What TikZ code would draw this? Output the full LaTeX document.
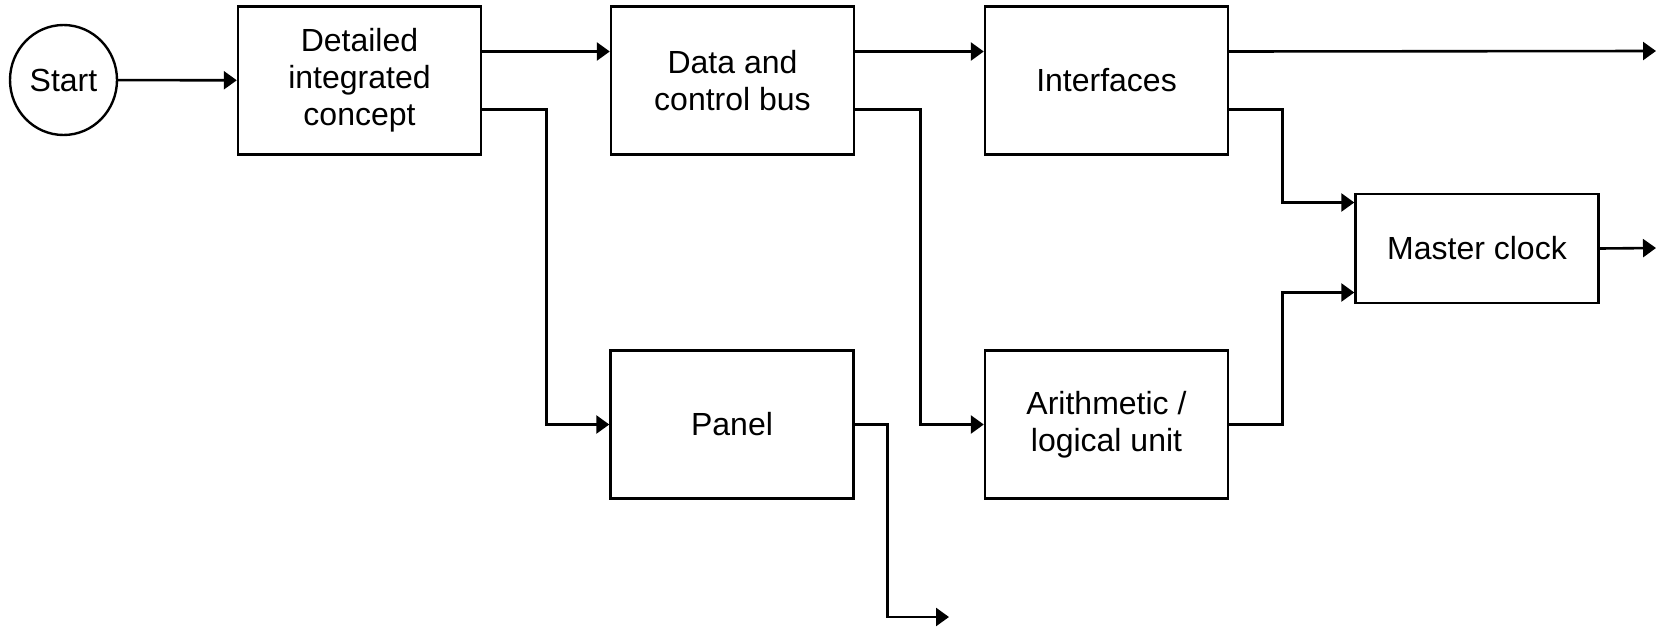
\documentclass[tikz,border=0pt]{standalone}
\usepackage{fontspec}
\setmainfont{Liberation Sans}
\usetikzlibrary{arrows.meta, shapes.geometric}

\tikzset{
    block/.style={draw, line width=1.2pt, minimum width=121.5pt, minimum height=74pt,
        align=center, font=\fontsize{16}{18.5}\selectfont},
    link/.style={line width=1.3pt, -{Triangle[length=6.5pt,width=9pt]}}
}

\begin{document}
\begin{tikzpicture}[x=0.5pt, y=-0.5pt]
    \useasboundingbox (0,0) rectangle (1656,627);

    \node[draw, line width=1.2pt, ellipse, minimum width=53.5pt, minimum height=55pt,
        inner sep=0pt, font=\fontsize{16}{18.5}\selectfont] (start) at (63.5,80) {Start};
    \node[block] (concept) at (359.5,80.5) {Detailed\\integrated\\concept};
    \node[block] (bus) at (732.5,80.5) {Data and\\control bus};
    \node[block] (iface) at (1106.5,80.5) {Interfaces};
    \node[block] (panel) at (732,424.5) {Panel};
    \node[block] (alu) at (1106.5,424.5) {Arithmetic /\\logical unit};
    \node[block, minimum height=54.5pt] (clock) at (1477,248.5) {Master clock};

    \coordinate (outa) at (1656,51);
    \coordinate (outb) at (1656,248);
    \coordinate (outc) at (949,617);

    \draw[link] (start) -- (concept);
    \draw[link] ([yshift=14.5pt]concept.east) -- ([yshift=14.5pt]bus.west);
    \draw[link] ([yshift=-14.5pt]concept.east) -- ++(32pt,0) |- (panel.west);
    \draw[link] ([yshift=14.5pt]bus.east) -- ([yshift=14.5pt]iface.west);
    \draw[link] ([yshift=-14.5pt]bus.east) -- ++(32.5pt,0) |- (alu.west);
    \draw[link] ([yshift=14.5pt]iface.east) -- (outa);
    \draw[link] ([yshift=-14.5pt]iface.east) -- ++(26.5pt,0) |- ([yshift=23pt]clock.west);
    \draw[link] (alu.east) -- ++(26.5pt,0) |- ([yshift=-22pt]clock.west);
    \draw[link] (clock.east) -- (outb);
    \draw[link] (panel.east) -- ++(16.5pt,0) |- (outc);
\end{tikzpicture}
\end{document}
